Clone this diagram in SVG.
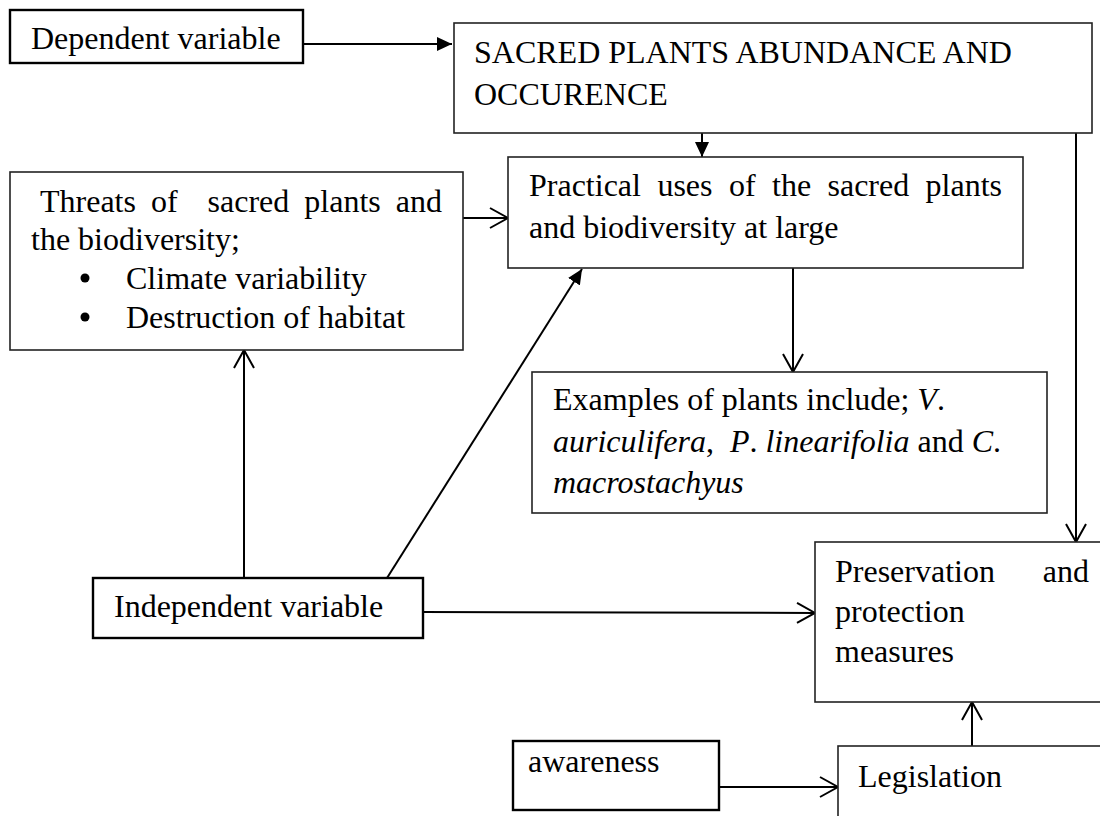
<svg xmlns="http://www.w3.org/2000/svg" width="1100" height="816" viewBox="0 0 1100 816">
<style>
text{font-family:"Liberation Serif","Times New Roman",serif;font-size:32px;fill:#000}
.box{fill:#fff;stroke:#222;stroke-width:1.6}
.boxb{fill:#fff;stroke:#000;stroke-width:2.4}
.con{fill:none;stroke:#000;stroke-width:2}
.it{font-style:italic}
</style>
<defs>
<marker id="fa" viewBox="0 0 15 14" refX="15" refY="7" markerWidth="15" markerHeight="14" markerUnits="userSpaceOnUse" orient="auto"><path d="M0,0 L15,7 L0,14 z" fill="#000"/></marker>
<marker id="oa" viewBox="0 0 21 24" refX="19" refY="12" markerWidth="21" markerHeight="24" markerUnits="userSpaceOnUse" orient="auto"><path d="M1,2 L19,12 L1,22" fill="none" stroke="#000" stroke-width="2"/></marker>
</defs>
<rect width="1100" height="816" fill="#fff"/>
<g id="connectors">
<line class="con" x1="303" y1="44" x2="452" y2="44" marker-end="url(#fa)"/>
<line class="con" x1="702" y1="133" x2="702" y2="157" marker-end="url(#fa)"/>
<line class="con" x1="463" y1="218" x2="508" y2="218" marker-end="url(#oa)"/>
<line class="con" x1="793" y1="268" x2="793" y2="372" marker-end="url(#oa)"/>
<line class="con" x1="1076" y1="133" x2="1076" y2="542" marker-end="url(#oa)"/>
<line class="con" x1="244" y1="578" x2="244" y2="350" marker-end="url(#oa)"/>
<line class="con" x1="387" y1="578" x2="582" y2="269" marker-end="url(#fa)"/>
<line class="con" x1="423" y1="612" x2="815" y2="613" marker-end="url(#oa)"/>
<line class="con" x1="972" y1="746" x2="972" y2="702" marker-end="url(#oa)"/>
<line class="con" x1="719" y1="787" x2="838" y2="787" marker-end="url(#oa)"/>
</g>
<g id="dependent">
<rect class="boxb" x="10" y="10" width="293" height="53"/>
<text x="31" y="49">Dependent variable</text>
</g>
<g id="sacred">
<rect class="box" x="454" y="23" width="638" height="110"/>
<text x="474" y="63">SACRED PLANTS ABUNDANCE AND</text>
<text x="474" y="105">OCCURENCE</text>
</g>
<g id="threats">
<rect class="box" x="10" y="172" width="453" height="178"/>
<text y="212"><tspan x="40">Threats</tspan><tspan x="151">of</tspan><tspan x="207.6">sacred</tspan><tspan x="304.3">plants</tspan><tspan x="395.8">and</tspan></text>
<text x="31" y="250">the biodiversity;</text>
<circle cx="85" cy="278" r="4.5" fill="#000"/>
<text x="126" y="289">Climate variability</text>
<circle cx="85" cy="317" r="4.5" fill="#000"/>
<text x="126" y="328">Destruction of habitat</text>
</g>
<g id="practical">
<rect class="box" x="508" y="157" width="515" height="111"/>
<text y="196"><tspan x="529">Practical</tspan><tspan x="657.4">uses</tspan><tspan x="728.9">of</tspan><tspan x="772">the</tspan><tspan x="827.5">sacred</tspan><tspan x="925.6">plants</tspan></text>
<text x="529" y="238">and biodiversity at large</text>
</g>
<g id="examples">
<rect class="box" x="532" y="372" width="515" height="141"/>
<text x="553" y="410">Examples of plants include; <tspan class="it">V</tspan>.</text>
<text x="553" y="452" xml:space="preserve"><tspan class="it">auriculifera</tspan>,  <tspan class="it">P</tspan>. <tspan class="it">linearifolia</tspan> and <tspan class="it">C</tspan>.</text>
<text x="553" y="493" class="it">macrostachyus</text>
</g>
<g id="independent">
<rect class="boxb" x="93" y="578" width="330" height="60"/>
<text x="114" y="617">Independent variable</text>
</g>
<g id="preservation">
<rect class="box" x="815" y="542" width="300" height="160"/>
<text x="835" y="582">Preservation</text>
<text x="1089" y="582" text-anchor="end">and</text>
<text x="835" y="622">protection</text>
<text x="835" y="662">measures</text>
</g>
<g id="awareness">
<rect class="boxb" x="513" y="741" width="206" height="69"/>
<text x="528" y="772">awareness</text>
</g>
<g id="legislation">
<rect class="box" x="838" y="746" width="280" height="90"/>
<text x="858" y="787">Legislation</text>
</g>
</svg>
